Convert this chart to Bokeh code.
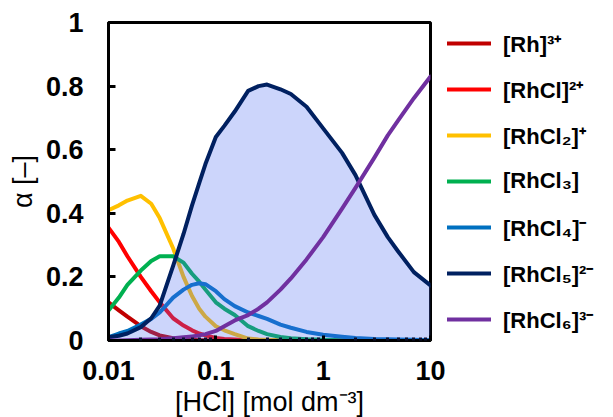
from bokeh.plotting import figure
from bokeh.models import FixedTicker, NumeralTickFormatter, Legend, LegendItem
from bokeh.embed import file_html
from bokeh.resources import INLINE

# ---- data ----
HCL = [0.01, 0.0125, 0.015, 0.02, 0.025, 0.03, 0.04, 0.05, 0.06, 0.07, 0.08,
       0.1, 0.12, 0.15, 0.2, 0.25, 0.3, 0.4, 0.5, 0.7, 1, 1.5, 2, 3, 4, 5, 7, 10]

RH = [0.12, 0.095, 0.075, 0.045, 0.027, 0.016, 0.007, 0.003, 0.002, 0.001, 0.001,
      0, 0, 0, 0, 0, 0, 0, 0, 0, 0, 0, 0, 0, 0, 0, 0, 0]
RHCL1 = [0.355, 0.31, 0.265, 0.2, 0.155, 0.12, 0.07, 0.047, 0.032, 0.022, 0.016,
         0.008, 0.005, 0.003, 0.001, 0, 0, 0, 0, 0, 0, 0, 0, 0, 0, 0, 0, 0]
RHCL2 = [0.41, 0.425, 0.44, 0.455, 0.43, 0.385, 0.29, 0.2, 0.14, 0.1, 0.075,
         0.045, 0.032, 0.02, 0.006, 0.003, 0.002, 0.001, 0, 0, 0, 0, 0, 0, 0, 0, 0, 0]
RHCL3 = [0.094, 0.135, 0.175, 0.22, 0.25, 0.265, 0.265, 0.245, 0.21, 0.185, 0.16,
         0.12, 0.1, 0.08, 0.045, 0.03, 0.02, 0.011, 0.007, 0.004, 0.002, 0.001, 0.001, 0, 0, 0, 0, 0]
RHCL4 = [0.01, 0.022, 0.03, 0.05, 0.068, 0.088, 0.135, 0.16, 0.175, 0.18, 0.177,
         0.155, 0.13, 0.108, 0.088, 0.077, 0.068, 0.05, 0.04, 0.027, 0.018, 0.012, 0.008, 0.005, 0.004, 0.003, 0.002, 0.001]
RHCL5 = [0.01, 0.015, 0.022, 0.042, 0.07, 0.11, 0.235, 0.335, 0.425, 0.495, 0.555,
         0.64, 0.675, 0.72, 0.785, 0.80, 0.805, 0.79, 0.775, 0.735, 0.667, 0.59, 0.52, 0.395, 0.325, 0.28, 0.215, 0.173]
RHCL6 = [0, 0, 0.001, 0.002, 0.003, 0.004, 0.007, 0.01, 0.013, 0.016, 0.02,
         0.03, 0.045, 0.063, 0.08, 0.1, 0.12, 0.16, 0.195, 0.255, 0.325, 0.415, 0.48, 0.575, 0.645, 0.692, 0.762, 0.83]

LABELS = ["[Rh]³⁺", "[RhCl]²⁺", "[RhCl₂]⁺", "[RhCl₃]", "[RhCl₄]⁻", "[RhCl₅]²⁻", "[RhCl₆]³⁻"]
COLORS = ["#C00000", "#FF0000", "#FFC000", "#00B050", "#0070C0", "#002060", "#7030A0"]

X_TICKS = [0.01, 0.1, 1, 10]
Y_TICKS = [0, 0.2, 0.4, 0.6, 0.8, 1]

FONT = "Liberation Sans"

p = figure(frame_width=322, frame_height=318, x_axis_type="log", x_range=(0.01, 10), y_range=(0, 1),
           output_backend="svg", toolbar_location=None,
           min_border_left=108, min_border_right=183, min_border_top=22, min_border_bottom=77)
p.xgrid.visible = False
p.ygrid.visible = False
p.outline_line_color = "black"
p.outline_line_width = 3
p.outline_line_alpha = 1
p.background_fill_color = "white"
p.border_fill_color = "white"

minor = [m * d for d in (0.01, 0.1, 1) for m in range(2, 10)]
p.xaxis.ticker = FixedTicker(ticks=X_TICKS, minor_ticks=minor)
p.yaxis.ticker = FixedTicker(ticks=Y_TICKS)
p.xaxis.formatter = NumeralTickFormatter(format="0.[00]")
p.yaxis.formatter = NumeralTickFormatter(format="0.[0]")

for ax in (p.xaxis[0], p.yaxis[0]):
    ax.axis_line_width = 3
    ax.axis_line_color = "black"
    ax.major_tick_line_width = 3
    ax.major_tick_line_color = "black"
    ax.major_tick_out = 0
    ax.major_label_text_font = FONT
    ax.major_label_text_font_style = "bold"
    ax.major_label_text_font_size = "27px"
    ax.major_label_text_color = "black"
    ax.axis_label_text_font = FONT
    ax.axis_label_text_font_style = "normal"
    ax.axis_label_text_font_size = "27px"
    ax.axis_label_text_color = "black"

p.yaxis.major_tick_in = 7
p.yaxis.minor_tick_line_color = None
p.yaxis.major_label_standoff = 25
p.yaxis.axis_label = "α [–]"
p.yaxis.axis_label_standoff = 5

p.xaxis.major_tick_in = 5
p.xaxis.minor_tick_in = 3
p.xaxis.minor_tick_out = 0
p.xaxis.minor_tick_line_width = 3
p.xaxis.minor_tick_line_color = "#0a1030"
p.xaxis.major_label_standoff = 20
p.xaxis.axis_label = "[HCl] [mol dm⁻³]"
p.xaxis.axis_label_standoff = 4

series = [RH, RHCL1, RHCL2, RHCL3, RHCL4, RHCL5, RHCL6]
renderers = []
for i, (ys, col) in enumerate(zip(series, COLORS)):
    if i == 5:
        p.varea(x=HCL, y1=[0] * len(HCL), y2=RHCL5, fill_color=(79, 110, 241), fill_alpha=0.29)
    r = p.line(HCL, ys, line_color=col, line_width=4, line_join="round", line_cap="round")
    renderers.append(r)

legend = Legend(items=[LegendItem(label=lab, renderers=[r]) for lab, r in zip(LABELS, renderers)],
                location="center_left", orientation="vertical")
legend.border_line_color = None
legend.background_fill_alpha = 0
legend.padding = 0
legend.margin = 17
legend.spacing = 16
legend.glyph_width = 44
legend.glyph_height = 30
legend.label_height = 30
legend.label_standoff = 12
legend.label_text_font = FONT
legend.label_text_font_style = "bold"
legend.label_text_font_size = "22px"
legend.label_text_color = "black"
p.add_layout(legend, "right")

open("out.html", "w").write(file_html(p, INLINE))
